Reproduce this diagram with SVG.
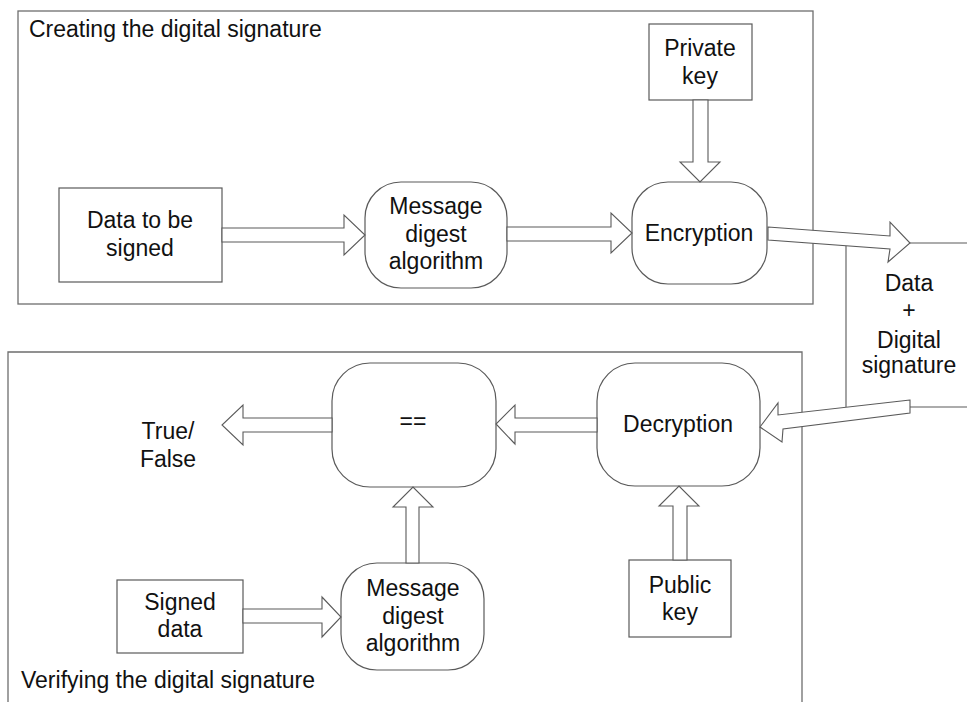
<svg xmlns="http://www.w3.org/2000/svg" width="967" height="702" viewBox="0 0 967 702">
  <style>
    .frame { fill: none; stroke: #6e6e6e; stroke-width: 1.3; }
    .box { fill: #fff; stroke: #5a5a5a; stroke-width: 1.2; }
    .arrow { fill: #fff; stroke: #5a5a5a; stroke-width: 1.1; stroke-linejoin: miter; }
    .wire { fill: none; stroke: #5a5a5a; stroke-width: 1.1; }
    text { font-family: "Liberation Sans", Arial, sans-serif; font-size: 23px; fill: #111; }
    .c { text-anchor: middle; }
  </style>
  <rect width="967" height="702" fill="#fff"/>

  <!-- section frames -->
  <g id="frame-create">
    <rect class="frame" x="18" y="11" width="795" height="293"/>
    <text x="29" y="37">Creating the digital signature</text>
  </g>
  <g id="frame-verify">
    <path class="frame" d="M8,702 V352 H802 V702"/>
    <text x="21" y="688">Verifying the digital signature</text>
  </g>

  <!-- nodes -->
  <g id="data-to-sign">
    <rect class="box" x="59" y="188" width="163" height="94"/>
    <text class="c" x="140" y="228">Data to be</text>
    <text class="c" x="140" y="256">signed</text>
  </g>
  <g id="digest-create">
    <rect class="box" x="365" y="182" width="142" height="106" rx="36" ry="36"/>
    <text class="c" x="436" y="214">Message</text>
    <text class="c" x="436" y="242">digest</text>
    <text class="c" x="436" y="269">algorithm</text>
  </g>
  <g id="private-key">
    <rect class="box" x="649" y="24" width="103" height="76"/>
    <text class="c" x="700" y="56">Private</text>
    <text class="c" x="700" y="84">key</text>
  </g>
  <g id="encryption">
    <rect class="box" x="632" y="182" width="135" height="102" rx="36" ry="36"/>
    <text class="c" x="699" y="241">Encryption</text>
  </g>
  <g id="decryption">
    <rect class="box" x="597" y="363" width="163" height="123" rx="38" ry="38"/>
    <text class="c" x="678" y="432">Decryption</text>
  </g>
  <g id="compare">
    <rect class="box" x="332" y="363" width="164" height="124" rx="38" ry="38"/>
    <text class="c" x="413" y="429">==</text>
  </g>
  <g id="public-key">
    <rect class="box" x="629" y="560" width="102" height="77"/>
    <text class="c" x="680" y="593">Public</text>
    <text class="c" x="680" y="620">key</text>
  </g>
  <g id="signed-data">
    <rect class="box" x="117" y="580" width="126" height="73"/>
    <text class="c" x="180" y="610">Signed</text>
    <text class="c" x="180" y="637">data</text>
  </g>
  <g id="digest-verify">
    <rect class="box" x="341" y="563" width="143" height="107" rx="36" ry="36"/>
    <text class="c" x="413" y="596">Message</text>
    <text class="c" x="413" y="624">digest</text>
    <text class="c" x="413" y="651">algorithm</text>
  </g>
  <g id="result">
    <text class="c" x="168" y="439">True/</text>
    <text class="c" x="168" y="467">False</text>
  </g>
  <g id="channel-label">
    <text class="c" x="909" y="291">Data</text>
    <text class="c" x="909" y="318">+</text>
    <text class="c" x="909" y="348">Digital</text>
    <text class="c" x="909" y="373">signature</text>
  </g>

  <!-- connectors -->
  <g id="connectors">
    <polygon class="arrow" points="222,228 344,228 344,215 365,235 344,255 344,242 222,242"/>
    <polygon class="arrow" points="507,227 611,227 611,213 632,233 611,253 611,241 507,241"/>
    <polygon class="arrow" points="693,100 693,162 680,162 700,182 720,162 708,162 708,100"/>
    <polygon class="arrow" points="768,227 890,236 890,222 910,243 888,262 890,249 768,240"/>
    <path class="wire" d="M910,243 H967 M846,246 V407 M910,407 H967"/>
    <polygon class="arrow" points="910,400 778,415 778,403 760,427 782,442 783,429 910,413"/>
    <polygon class="arrow" points="597,418 515,418 515,405 496,424 515,444 515,432 597,432"/>
    <polygon class="arrow" points="332,418 243,418 243,405 222,425 243,445 243,432 332,432"/>
    <polygon class="arrow" points="406,563 406,507 393,507 413,487 433,507 419,507 419,563"/>
    <polygon class="arrow" points="243,609 322,609 322,597 341,617 322,637 322,623 243,623"/>
    <polygon class="arrow" points="673,560 673,506 659,506 679,486 699,506 687,506 687,560"/>
  </g>
</svg>
